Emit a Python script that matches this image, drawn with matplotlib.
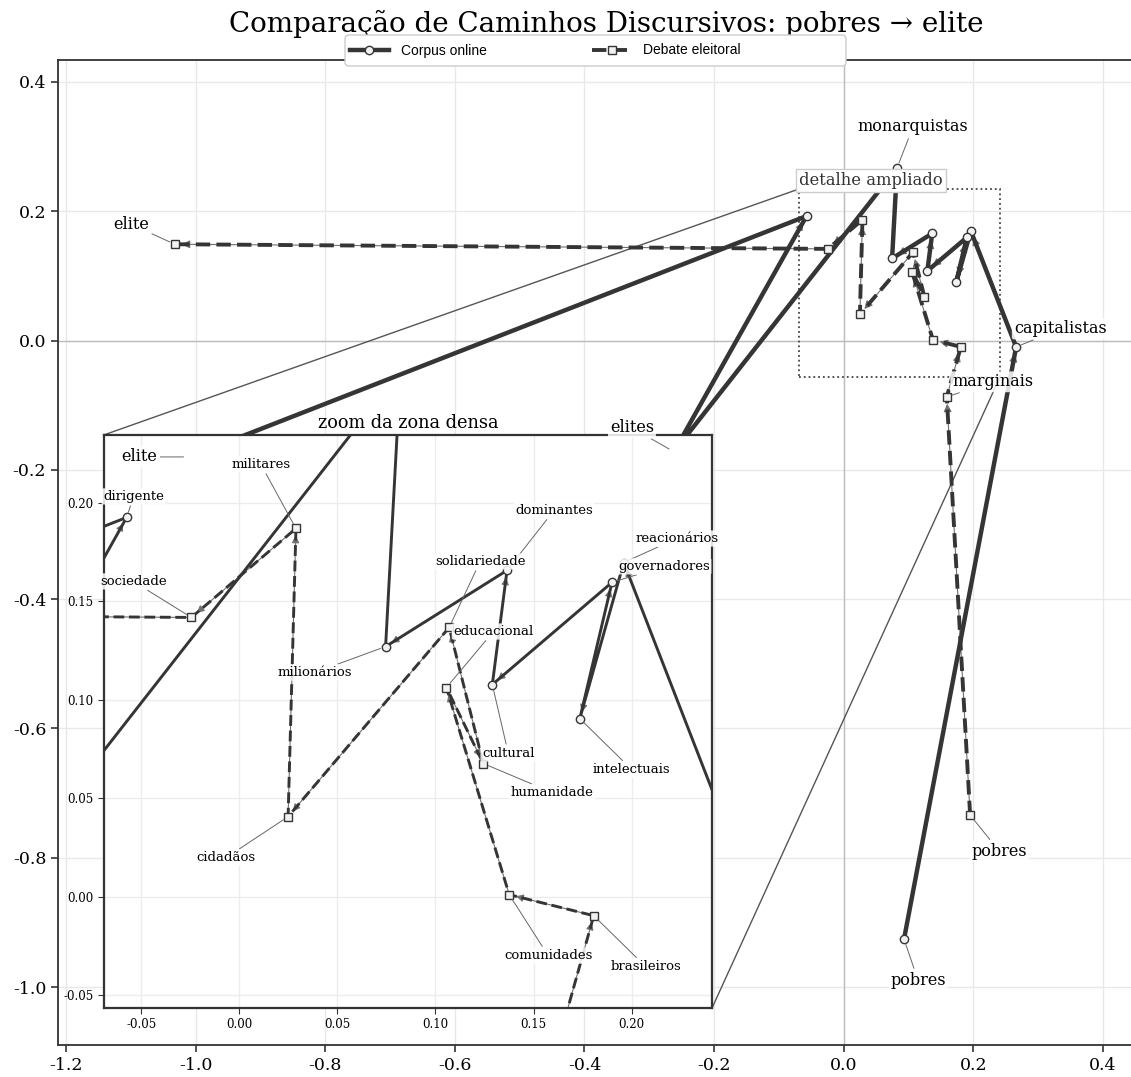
import matplotlib
matplotlib.use('Agg')
import matplotlib.pyplot as plt
from matplotlib.patches import Rectangle, FancyBboxPatch

plt.rcParams['font.family'] = ['DejaVu Serif']
plt.rcParams['axes.unicode_minus'] = False

# ---------------- data ----------------
title = 'Comparação de Caminhos Discursivos: pobres → elite'
series_names = ['Corpus online', 'Debate eleitoral']

corpus_words = ['pobres', 'capitalistas', 'reacionários', 'intelectuais', 'governadores',
                'cultural', 'dominantes', 'milionários', 'monarquistas', 'elites',
                'dirigente', 'elite']
corpus_x = [0.093, 0.266, 0.196, 0.1736, 0.190, 0.129, 0.1365, 0.0746, 0.0822, -0.262,
            -0.0574, -1.010]
corpus_y = [-0.926, -0.0099, 0.1697, 0.0904, 0.1596, 0.1077, 0.1657, 0.127, 0.267, -0.172,
            0.1926, -0.180]

debate_words = ['pobres', 'marginais', 'brasileiros', 'comunidades', 'educacional',
                'humanidade', 'solidariedade', 'cidadãos', 'militares', 'sociedade', 'elite']
debate_x = [0.195, 0.159, 0.1807, 0.1376, 0.1056, 0.1244, 0.107, 0.0249, 0.0289, -0.0244, -1.032]
debate_y = [-0.734, -0.087, -0.0097, 0.001, 0.1062, 0.0676, 0.1367, 0.0406, 0.187, 0.1418, 0.149]

x_ticks = [-1.2, -1.0, -0.8, -0.6, -0.4, -0.2, 0.0, 0.2, 0.4]
y_ticks = [-1.0, -0.8, -0.6, -0.4, -0.2, 0.0, 0.2, 0.4]
inset_ticks = [-0.05, 0.00, 0.05, 0.10, 0.15, 0.20]

# ---------------- layout / style ----------------
LINE = '#353535'
FACE = '#f2f2f2'
W, H = 1131, 1077
xlim = (-1.2123, 0.4787)
ylim = (-1.0897, 0.434)
zx = (-0.069, 0.241)
zy = (-0.0566, 0.2345)
inset_box = (-1.1415, -1.0325, 0.9383, 0.8865)  # data coords of inset placement

main_offsets = {
    ('c', 'pobres'): (14, -41),
    ('c', 'capitalistas'): (44, 18),
    ('c', 'monarquistas'): (16, 41),
    ('c', 'elites'): (-42, 24),
    ('c', 'elite'): (-50, 0),
    ('d', 'pobres'): (29, -36),
    ('d', 'marginais'): (46, 15),
    ('d', 'elite'): (-44, 20),
}
inset_offsets = {
    ('c', 'dirigente'): (7, 21),
    ('d', 'militares'): (-35, 64),
    ('d', 'sociedade'): (-58, 36),
    ('c', 'milionários'): (-71, -26),
    ('c', 'dominantes'): (47, 60),
    ('d', 'solidariedade'): (31, 66),
    ('d', 'educacional'): (47, 56),
    ('c', 'reacionários'): (53, 24),
    ('c', 'governadores'): (52, 16),
    ('c', 'cultural'): (16, -69),
    ('d', 'humanidade'): (69, -29),
    ('c', 'intelectuais'): (52, -51),
    ('d', 'cidadãos'): (-62, -41),
    ('d', 'comunidades'): (39, -61),
    ('d', 'brasileiros'): (52, -51),
}

fig = plt.figure(figsize=(W / 100, H / 100), dpi=100)
ax = fig.add_axes([58 / W, 1 - 1045 / H, (1154 - 58) / W, (1045 - 60) / H])
ax.set_xlim(*xlim)
ax.set_ylim(*ylim)
ax.set_xticks(x_ticks)
ax.set_yticks(y_ticks)
ax.set_xticklabels(['%.1f' % v for v in x_ticks])
ax.set_yticklabels(['%.1f' % v for v in y_ticks])
ax.tick_params(labelsize=12.5, length=5, width=1.2, color='#333333')
ax.grid(True, color='#e8e8e8', lw=1.0, zorder=0)
ax.set_axisbelow(True)
ax.axhline(0, color='#bdbdbd', lw=1.0, zorder=1)
ax.axvline(0, color='#bdbdbd', lw=1.0, zorder=1)
for s in ['left', 'bottom', 'top']:
    ax.spines[s].set_color('#333333')
    ax.spines[s].set_linewidth(1.3)
ax.spines['right'].set_visible(False)
ax.set_title(title, fontsize=20, pad=20)


def draw_series(a, xs, ys, ls, marker, lw, ms, mut):
    line, = a.plot(xs, ys, color=LINE, lw=lw, ls=ls, marker=marker, ms=ms,
                   mfc=FACE, mec=LINE, mew=1.0, zorder=3)
    for i in range(len(xs) - 1):
        ann = a.annotate('', xy=(xs[i + 1], ys[i + 1]), xytext=(xs[i], ys[i]),
                         arrowprops=dict(arrowstyle='-|>', color='#707070', lw=0.8,
                                         shrinkA=0, shrinkB=5, mutation_scale=mut),
                         zorder=2.5, annotation_clip=False)
        ann.arrow_patch.set_clip_path(a.patch)
    return line


def label_points(a, key, words, xs, ys, offsets, fs, zorder):
    for w, x, y in zip(words, xs, ys):
        if (key, w) not in offsets:
            continue
        dx, dy = offsets[(key, w)]
        a.annotate(w, xy=(x, y), xytext=(dx, dy), textcoords='offset pixels',
                   ha='center', va='center', fontsize=fs, zorder=zorder,
                   bbox=dict(boxstyle='round,pad=0.12', fc='white', ec='none', alpha=0.85),
                   arrowprops=dict(arrowstyle='-', color='#666666', lw=0.7,
                                   shrinkA=1, shrinkB=4),
                   annotation_clip=False)


l1 = draw_series(ax, corpus_x, corpus_y, '-', 'o', 3.2, 6, 12)
l2 = draw_series(ax, debate_x, debate_y, '--', 's', 2.8, 6, 12)
label_points(ax, 'c', corpus_words, corpus_x, corpus_y, main_offsets, 11.5, 10)
label_points(ax, 'd', debate_words, debate_x, debate_y, main_offsets, 11.5, 10)

# detail rectangle + label
ax.add_patch(Rectangle((zx[0], zy[0]), zx[1] - zx[0], zy[1] - zy[0], fill=False,
                       ls=':', lw=1.3, ec='#444444', zorder=2.6))
ax.text(zx[0], zy[1], 'detalhe ampliado', ha='left', va='bottom', fontsize=11.8,
        color='#333333', zorder=11,
        bbox=dict(boxstyle='square,pad=0.2', fc='white', ec='#cccccc', lw=1))

# connectors
bx0, by0, bw, bh = inset_box
ax.plot([bx0, zx[0]], [by0 + bh, zy[1]], color='#555555', lw=1.0, zorder=2)
ax.plot([bx0 + bw, zx[1]], [by0, zy[0]], color='#555555', lw=1.0, zorder=2)

# inset
axins = ax.inset_axes(list(inset_box), transform=ax.transData)
axins.set_xlim(*zx)
axins.set_ylim(*zy)
axins.set_xticks(inset_ticks)
axins.set_yticks(inset_ticks)
axins.set_xticklabels(['%.2f' % v for v in inset_ticks])
axins.set_yticklabels(['%.2f' % v for v in inset_ticks])
axins.tick_params(labelsize=8.5, length=4, color='#333333')
axins.grid(True, color='#ececec', lw=1.0)
axins.set_axisbelow(True)
for s in axins.spines.values():
    s.set_color('#333333')
    s.set_linewidth(1.6)
axins.set_title('zoom da zona densa', fontsize=12.8, pad=5)
draw_series(axins, corpus_x, corpus_y, '-', 'o', 2.1, 6, 11)
draw_series(axins, debate_x, debate_y, '--', 's', 2.1, 6, 11)
label_points(axins, 'c', corpus_words, corpus_x, corpus_y, inset_offsets, 9.5, 6)
label_points(axins, 'd', debate_words, debate_x, debate_y, inset_offsets, 9.5, 6)

# legend (frame drawn separately to match the wide box)
frame = FancyBboxPatch((345, H - 66), 501, 31, boxstyle='round,pad=0,rounding_size=4',
                       transform=None, fc='white', ec='#cccccc', lw=1.0, zorder=4)
fig.add_artist(frame)
leg = fig.legend([l1, l2], series_names, loc='center left',
                 bbox_to_anchor=(350 / W, 1 - 50.5 / H), ncol=2,
                 prop={'family': 'Liberation Sans', 'size': 10}, handlelength=2.8,
                 handletextpad=0.85, columnspacing=7.6, frameon=False,
                 borderpad=0, borderaxespad=0)
leg.set_zorder(5)

fig.savefig('out.png', dpi=100)
